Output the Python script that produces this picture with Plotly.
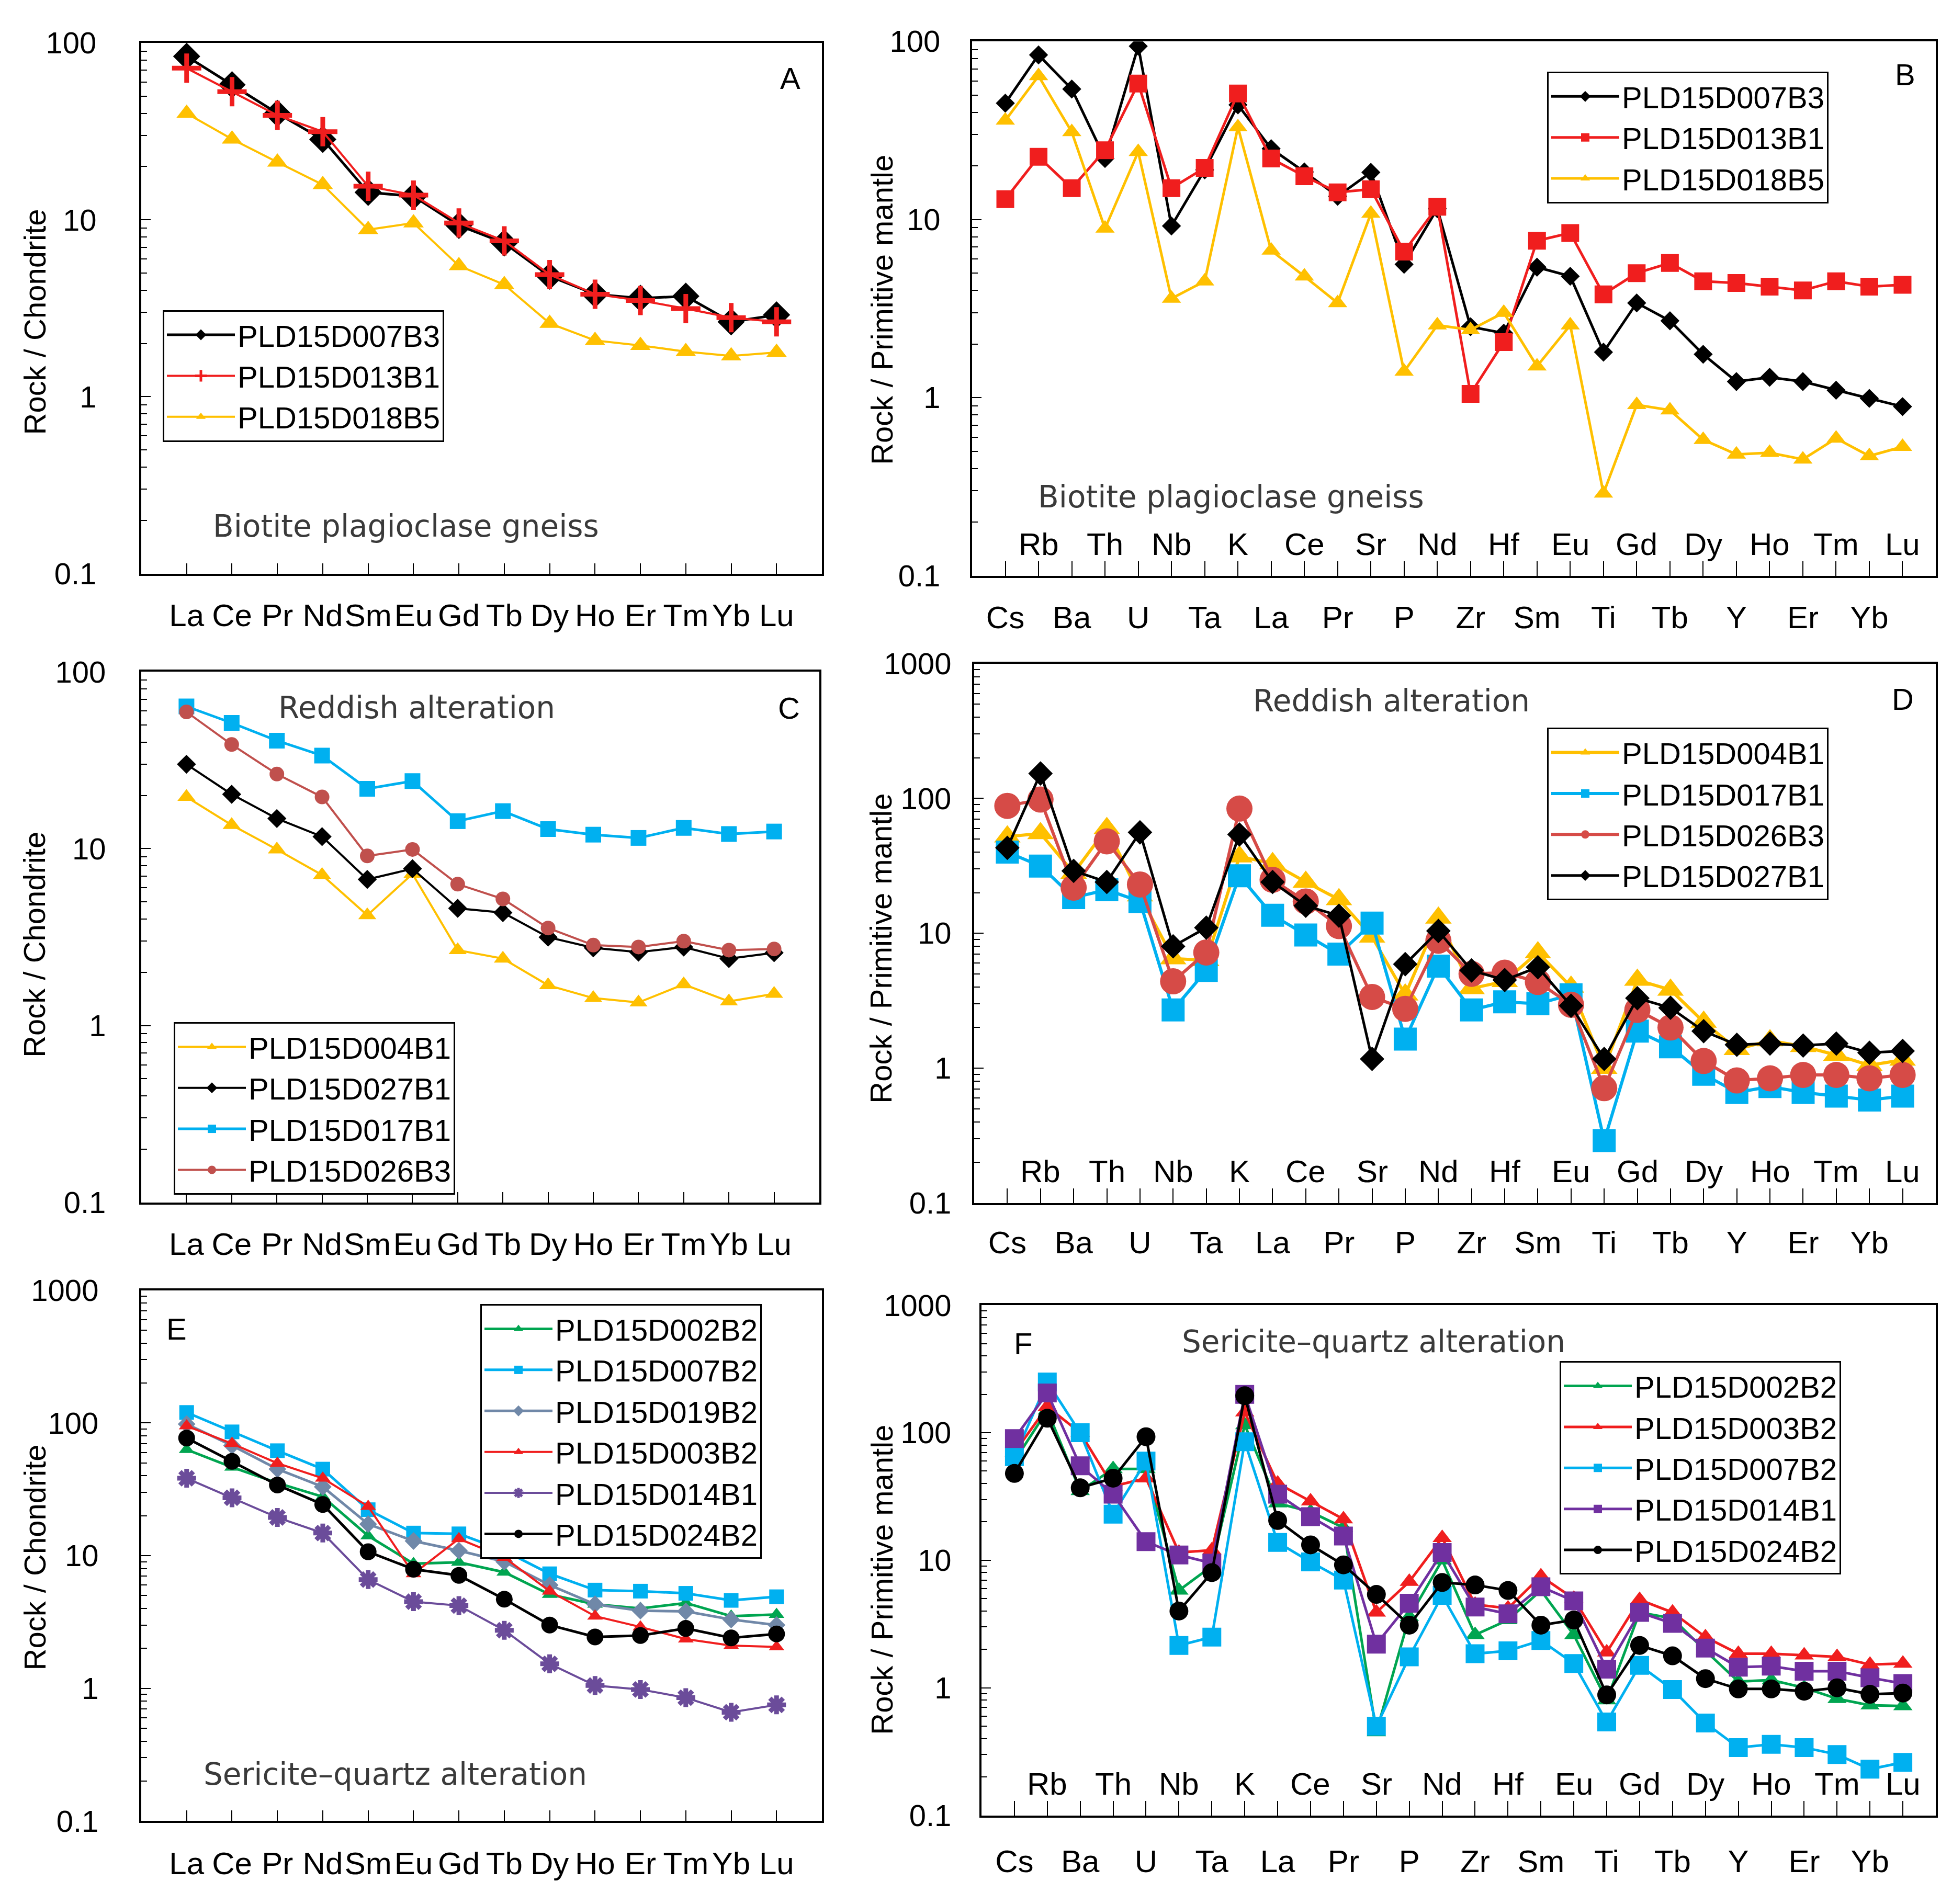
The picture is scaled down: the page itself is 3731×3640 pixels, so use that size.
import plotly.graph_objects as go

W, H = 3731, 3640

# element orders
REE = ["La", "Ce", "Pr", "Nd", "Sm", "Eu", "Gd", "Tb", "Dy", "Ho", "Er", "Tm", "Yb", "Lu"]
SPIDER = ["Cs", "Rb", "Ba", "Th", "U", "Nb", "Ta", "K", "La", "Ce", "Pr", "Sr", "P", "Nd",
          "Zr", "Hf", "Sm", "Eu", "Ti", "Gd", "Tb", "Dy", "Y", "Ho", "Er", "Tm", "Yb", "Lu"]

# A - biotite plagioclase gneiss, chondrite normalised
a_007B3 = [84, 58, 40, 28.5, 14.3, 13.6, 9.3, 7.4, 4.8, 3.8, 3.6, 3.7, 2.65, 2.9]
a_013B1 = [72, 53, 39, 31.5, 15.5, 13.8, 9.6, 7.6, 4.9, 3.8, 3.5, 3.15, 2.8, 2.65]
a_018B5 = [40, 28.6, 21.2, 15.8, 8.8, 9.6, 5.5, 4.3, 2.6, 2.08, 1.95, 1.8, 1.7, 1.78]

# B - biotite plagioclase gneiss, primitive mantle normalised
b_007B3 = [45, 84, 54, 22, 94, 9.2, 19, 44, 25, 18.5, 13.5, 18.4, 5.6, 11.5, 2.5, 2.3, 5.4, 4.8,
           1.8, 3.4, 2.7, 1.75, 1.23, 1.3, 1.23, 1.1, 0.99, 0.89]
b_013B1 = [13, 22.5, 15, 24.5, 58, 15, 19.5, 51, 22, 17.5, 14.2, 14.8, 6.6, 11.8, 1.05, 2.05, 7.6,
           8.4, 3.8, 5.0, 5.7, 4.5, 4.4, 4.2, 4.0, 4.5, 4.2, 4.3]
b_018B5 = [36, 64, 31, 8.9, 24, 3.6, 4.5, 33, 6.7, 4.8, 3.4, 10.8, 1.4, 2.55, 2.4, 3.0, 1.5, 2.55,
           0.29, 0.91, 0.85, 0.58, 0.48, 0.49, 0.45, 0.59, 0.47, 0.53]

# C - reddish alteration, chondrite normalised
c_004B1 = [19.6, 13.6, 9.9, 7.1, 4.2, 7.2, 2.67, 2.39, 1.69, 1.43, 1.35, 1.71, 1.37, 1.51]
c_027B1 = [30, 20.3, 14.8, 11.7, 6.7, 7.7, 4.6, 4.35, 3.16, 2.75, 2.6, 2.78, 2.39, 2.58]
c_017B1 = [63.7, 51.4, 40.8, 33.6, 21.8, 24.1, 14.3, 16.3, 12.9, 12.0, 11.5, 13.1, 12.1, 12.5]
c_026B3 = [59.3, 38.8, 26.4, 19.6, 9.1, 9.9, 6.3, 5.2, 3.56, 2.85, 2.78, 3.0, 2.67, 2.71]

# D - reddish alteration, primitive mantle normalised
d_004B1 = [52, 55, 28, 60, 19, 6.5, 6.3, 37, 33, 24, 17.8, 9.4, 3.5, 13, 3.9, 4.4, 7.2, 4.0,
           1.0, 4.5, 3.8, 2.2, 1.38, 1.6, 1.45, 1.25, 1.05, 1.15]
d_017B1 = [40, 31.5, 18.4, 21, 17.2, 2.7, 5.3, 26.7, 13.6, 9.7, 7.0, 11.9, 1.64, 5.7, 2.7, 3.1,
           3.0, 3.5, 0.29, 1.88, 1.44, 0.9, 0.66, 0.73, 0.66, 0.62, 0.58, 0.62]
d_026B3 = [88, 98, 21.8, 48, 23, 4.4, 7.2, 84, 24.9, 17.2, 11.3, 3.37, 2.75, 8.8, 5.0, 5.1, 4.35,
           2.95, 0.71, 2.7, 2.0, 1.13, 0.81, 0.84, 0.89, 0.89, 0.84, 0.89]
d_027B1 = [43, 153, 29, 24, 56, 8.0, 11, 54, 24, 16, 13.5, 1.17, 5.9, 10.4, 5.3, 4.5, 5.6, 2.9,
           1.17, 3.3, 2.8, 1.88, 1.49, 1.52, 1.47, 1.52, 1.3, 1.34]

# E - sericite-quartz alteration, chondrite normalised
e_002B2 = [63, 46.4, 35.3, 27.8, 14.1, 8.7, 8.9, 7.5, 5.1, 4.3, 4.0, 4.4, 3.5, 3.6]
e_007B2 = [120, 85.7, 61.8, 44.9, 22.2, 14.8, 14.6, 10.9, 7.3, 5.5, 5.4, 5.2, 4.6, 4.9]
e_019B2 = [98, 67.6, 44.9, 33, 17.3, 12.9, 10.9, 9.0, 6.0, 4.3, 3.85, 3.8, 3.3, 3.0]
e_003B2 = [95, 69.9, 49.7, 38.3, 23.5, 7.3, 13.4, 9.7, 5.4, 3.5, 2.9, 2.35, 2.1, 2.05]
e_014B1 = [38.3, 27.3, 19.4, 14.8, 6.6, 4.5, 4.2, 2.74, 1.53, 1.05, 0.98, 0.85, 0.66, 0.75]
e_024B2 = [77, 51.4, 34.1, 24.3, 10.7, 7.9, 7.1, 4.7, 3.0, 2.44, 2.5, 2.83, 2.4, 2.57]

# F - sericite-quartz alteration, primitive mantle normalised
f_002B2 = [60, 150, 35, 52, 52, 5.8, 9.0, 115, 28, 24, 18, 0.45, 3.6, 10, 2.6, 3.4, 5.8, 2.6,
           0.8, 3.9, 3.5, 1.95, 1.12, 1.15, 1.0, 0.82, 0.73, 0.72]
f_003B2 = [70, 160, 100, 38, 44, 11.5, 12, 145, 40, 29, 21, 3.9, 6.8, 15, 4.5, 4.2, 7.5, 5.0,
           1.9, 4.9, 3.9, 2.5, 1.85, 1.85, 1.8, 1.75, 1.52, 1.55]
f_007B2 = [65, 250, 100, 23, 60, 2.15, 2.5, 85, 13.8, 9.7, 7.0, 0.5, 1.75, 5.3, 1.85, 1.95, 2.35,
           1.55, 0.54, 1.5, 0.97, 0.53, 0.34, 0.36, 0.34, 0.3, 0.23, 0.26]
f_014B1 = [90, 205, 55, 33, 14, 11, 9.5, 200, 33, 22, 15.5, 2.2, 4.6, 11.5, 4.3, 3.8, 6.2, 4.8,
           1.4, 3.9, 3.2, 2.05, 1.45, 1.48, 1.35, 1.35, 1.2, 1.08]
f_024B2 = [48, 130, 37, 44, 93, 4.0, 8.0, 195, 20.5, 13.2, 9.2, 5.4, 3.1, 6.7, 6.4, 5.8, 3.1, 3.4,
           0.88, 2.15, 1.78, 1.18, 0.98, 0.98, 0.94, 1.0, 0.89, 0.91]

FONT = "Liberation Sans, Arial, sans-serif"
NOTE_FONT = "DejaVu Sans, Verdana, sans-serif"
YELLOW = "#FFC000"
RED = "#F01E1E"
CYAN = "#00B0F0"
BROWN = "#C0504D"
SALMON = "#D64B47"
GREEN = "#00A550"
GREYBLUE = "#7088A8"
PURPLE_E = "#6B4C9A"
PURPLE_F = "#7030A0"


def fx(px):
    return px / W


def fy(px):
    return 1 - px / H


# panel frames in pixels: left, right, top, bottom, log range top
panels = [
    dict(l=270, r=1571, t=50, b=1083, top=2, cats=REE, title="Rock / Chondrite", tx=66, ty=593,
         letter="A", lx=1510, ly=119, note="Biotite plagioclase gneiss", nx=776, ny=991,
         leg=(311, 570), ystand=70, xstand=24),
    dict(l=1858, r=3700, t=47, b=1087, top=2, cats=SPIDER, title="Rock / Primitive mantle", tx=1686, ty=570,
         letter="B", lx=3641, ly=111, note="Biotite plagioclase gneiss", nx=2353, ny=934,
         leg=(2957, 106), ystand=45, xstand=24),
    dict(l=270, r=1566, t=1274, b=2307, top=2, cats=REE, title="Rock / Chondrite", tx=66, ty=1805,
         letter="C", lx=1508, ly=1344, note="Reddish alteration", nx=796, ny=1344,
         leg=(332, 1956), ystand=52, xstand=24),
    dict(l=1862, r=3700, t=1258, b=2308, top=3, cats=SPIDER, title="Rock / Primitive mantle", tx=1684, ty=1813,
         letter="D", lx=3637, ly=1327, note="Reddish alteration", nx=2659, ny=1331,
         leg=(2957, 1383), ystand=28, xstand=20),
    dict(l=270, r=1571, t=2478, b=3511, top=3, cats=REE, title="Rock / Chondrite", tx=66, ty=2998,
         letter="E", lx=337, ly=2553, note="Sericite\u2013quartz alteration", nx=755, ny=3420,
         leg=(918, 2505), ystand=66, xstand=26),
    dict(l=1876, r=3700, t=2507, b=3500, top=3, cats=SPIDER, title="Rock / Primitive mantle", tx=1686, ty=3042,
         letter="F", lx=1955, ly=2582, note="Sericite\u2013quartz alteration", nx=2625, ny=2578,
         leg=(2981, 2616), ystand=42, xstand=32),
]

# series per panel: name, values, colour, symbol, marker size, line width
series = [
    [("PLD15D007B3", a_007B3, "black", "diamond", 40, 5),
     ("PLD15D013B1", a_013B1, RED, "cross-thin", 40, 4),
     ("PLD15D018B5", a_018B5, YELLOW, "triangle-up", 34, 4)],
    [("PLD15D007B3", b_007B3, "black", "diamond", 28, 5),
     ("PLD15D013B1", b_013B1, RED, "square", 34, 5),
     ("PLD15D018B5", b_018B5, YELLOW, "triangle-up", 32, 5)],
    [("PLD15D004B1", c_004B1, YELLOW, "triangle-up", 30, 4),
     ("PLD15D027B1", c_027B1, "black", "diamond", 28, 4),
     ("PLD15D017B1", c_017B1, CYAN, "square", 30, 5),
     ("PLD15D026B3", c_026B3, BROWN, "circle", 28, 4)],
    [("PLD15D004B1", d_004B1, YELLOW, "triangle-up", 44, 6),
     ("PLD15D017B1", d_017B1, CYAN, "square", 44, 6),
     ("PLD15D026B3", d_026B3, SALMON, "circle", 50, 6),
     ("PLD15D027B1", d_027B1, "black", "diamond", 36, 5)],
    [("PLD15D002B2", e_002B2, GREEN, "triangle-up", 26, 5),
     ("PLD15D007B2", e_007B2, CYAN, "square", 28, 5),
     ("PLD15D019B2", e_019B2, GREYBLUE, "diamond", 26, 5),
     ("PLD15D003B2", e_003B2, RED, "triangle-up", 26, 4),
     ("PLD15D014B1", e_014B1, PURPLE_E, "asterisk-open", 30, 4),
     ("PLD15D024B2", e_024B2, "black", "circle", 32, 5)],
    [("PLD15D002B2", f_002B2, GREEN, "triangle-up", 32, 5),
     ("PLD15D003B2", f_003B2, RED, "triangle-up", 32, 5),
     ("PLD15D007B2", f_007B2, CYAN, "square", 36, 5),
     ("PLD15D014B1", f_014B1, PURPLE_F, "square", 36, 5),
     ("PLD15D024B2", f_024B2, "black", "circle", 36, 5)],
]

major = [0.1, 1, 10, 100, 1000]
minor = [m * 10.0 ** e for e in range(-1, 3) for m in range(2, 10)]

fig = go.Figure()
layout = dict(width=W, height=H, autosize=False, margin=dict(l=0, r=0, t=0, b=0),
              paper_bgcolor="white", plot_bgcolor="white", showlegend=True, annotations=[])

for i, p in enumerate(panels):
    n = "" if i == 0 else str(i + 1)
    xa, ya = "x" + n, "y" + n
    leg = "legend" + n
    spider = p["cats"] is SPIDER

    for name, vals, col, sym, size, lw in series[i]:
        is_line_sym = sym in ("cross-thin", "asterisk-open")
        fig.add_trace(go.Scatter(
            x=p["cats"], y=vals, name=name, mode="lines+markers",
            xaxis=xa, yaxis=ya, legend=leg,
            line=dict(color=col, width=lw),
            marker=dict(symbol=sym, size=size, color=col,
                        line=dict(color=col, width=9 if is_line_sym else 0)),
        ))

    if spider:
        ticktext = [c if k % 2 == 0 else "" for k, c in enumerate(p["cats"])]
        ticklen = 28
    else:
        ticktext = p["cats"]
        ticklen = 20

    layout["xaxis" + n] = dict(
        domain=[fx(p["l"]), fx(p["r"])], anchor=ya, type="category",
        range=[-1, len(p["cats"])], tickvals=p["cats"], ticktext=ticktext,
        showline=True, mirror=True, linecolor="black", linewidth=4,
        ticks="inside", ticklen=ticklen, tickwidth=2, tickcolor="black",
        ticklabelstandoff=p["xstand"], showgrid=False, zeroline=False,
        tickfont=dict(family=FONT, size=60, color="black"),
    )
    yt = [v for v in major if v <= 10 ** p["top"]]
    layout["yaxis" + n] = dict(
        domain=[fy(p["b"]), fy(p["t"])], anchor=xa, type="log",
        range=[-1, p["top"]], tickvals=yt, ticktext=[("%g" % v) for v in yt],
        showline=True, mirror=True, linecolor="black", linewidth=4,
        ticks="inside", ticklen=18, tickwidth=2, tickcolor="black",
        ticklabelstandoff=p["ystand"], showgrid=False, zeroline=False,
        minor=dict(tickvals=[v for v in minor if v < 10 ** p["top"]], ticks="inside",
                   ticklen=11, tickwidth=2, tickcolor="black", showgrid=False),
        tickfont=dict(family=FONT, size=58, color="black"),
    )

    layout[leg] = dict(
        x=fx(p["leg"][0]), y=fy(p["leg"][1]), xanchor="left", yanchor="top",
        bgcolor="white", bordercolor="black", borderwidth=3, itemwidth=130,
        font=dict(family=FONT, size=58, color="black"), tracegroupgap=0,
    )

    # element labels sitting above the axis (odd positions)
    if spider:
        for k, c in enumerate(p["cats"]):
            if k % 2 == 1:
                layout["annotations"].append(dict(
                    x=c, y=0, xref=xa, yref=ya + " domain", yanchor="middle", yshift=60,
                    text=c, showarrow=False, font=dict(family=FONT, size=60, color="black")))

    layout["annotations"].append(dict(
        x=fx(p["tx"]), y=fy(p["ty"]), xref="paper", yref="paper", text=p["title"],
        textangle=-90, showarrow=False, xanchor="center", yanchor="middle",
        font=dict(family=FONT, size=58, color="black")))
    layout["annotations"].append(dict(
        x=fx(p["lx"]), y=fy(p["ly"]), xref="paper", yref="paper", text=p["letter"],
        showarrow=False, xanchor="center", yanchor="middle",
        font=dict(family=FONT, size=58, color="black")))
    layout["annotations"].append(dict(
        x=fx(p["nx"]), y=fy(p["ny"]), xref="paper", yref="paper", text=p["note"],
        showarrow=False, xanchor="center", yanchor="middle",
        font=dict(family=NOTE_FONT, size=58, color="#3a3a3a")))

fig.update_layout(**layout)
fig.write_html("out.html", config={"displayModeBar": False},
               post_script="document.body.style.margin='0';")
